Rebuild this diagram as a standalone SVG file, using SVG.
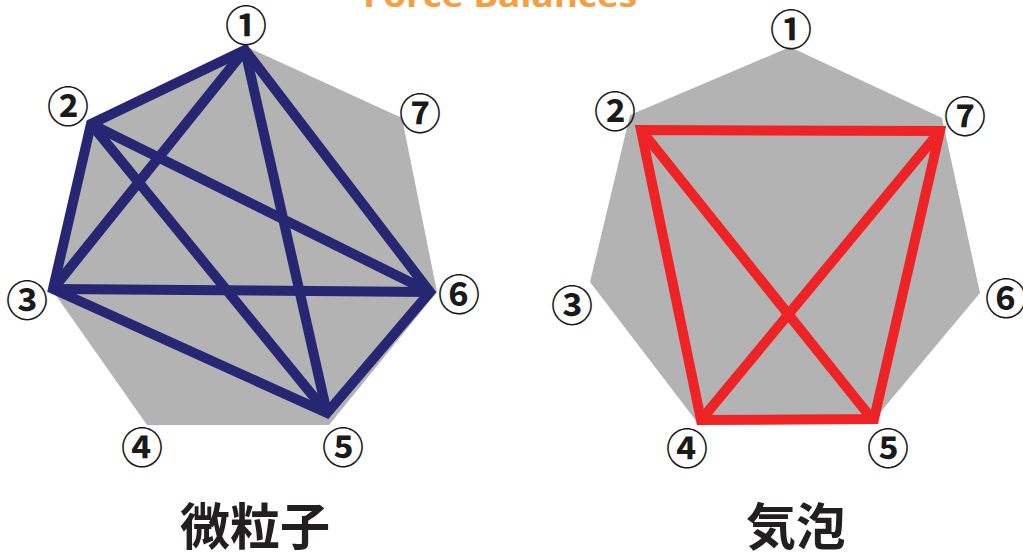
<svg xmlns="http://www.w3.org/2000/svg" width="1023" height="553" viewBox="0 0 1023 553">
<style>
.poly{fill:#b3b3b3;stroke:none}
.num{font-family:"Noto Sans CJK JP","DejaVu Sans",sans-serif;font-size:42px;font-weight:bold;fill:#1a1a1a;text-anchor:middle;dominant-baseline:central}
.title{font-family:"Noto Sans CJK JP",sans-serif;font-size:50px;font-weight:bold;fill:#231f20;text-anchor:middle}
.blue{stroke:#262673;stroke-width:10;fill:none;stroke-linejoin:miter}
.red{stroke:#ee2326;stroke-width:10;fill:none;stroke-linejoin:miter}
</style>
<rect width="1023" height="553" fill="#ffffff"/>
<text x="500" y="7" font-family="Open Sans, sans-serif" font-size="32" font-weight="bold" fill="#f59e42" text-anchor="middle" textLength="274" lengthAdjust="spacingAndGlyphs">Force Balances</text>
<g id="heptagon-left">
<polygon class="poly" points="247,47 402,118 437,292 329,425 147,425 50,287 88,120"/>
</g>
<g id="heptagon-right">
<polygon class="poly" points="790,47 942,118 980,293 878,415 697,422 590,282 630,115"/>
</g>
<g id="connectors">
<polygon class="blue" points="245,50 91,124 53,289 327,413 430,292"/>
<line class="blue" x1="245" y1="50" x2="53" y2="289"/>
<line class="blue" x1="245" y1="50" x2="327" y2="413"/>
<line class="blue" x1="91" y1="124" x2="327" y2="413"/>
<line class="blue" x1="91" y1="124" x2="430" y2="292"/>
<line class="blue" x1="53" y1="289" x2="430" y2="292"/>
<polygon class="red" points="641,130 940,131 874,419 701,420"/>
<line class="red" x1="641" y1="130" x2="872" y2="419"/>
<line class="red" x1="940" y1="131" x2="701" y2="420"/>
</g>
<g id="left-n1"><text class="num" x="246" y="22">①</text></g>
<g id="left-n2"><text class="num" x="68" y="103">②</text></g>
<g id="left-n3"><text class="num" x="27" y="297">③</text></g>
<g id="left-n4"><text class="num" x="142" y="444">④</text></g>
<g id="left-n5"><text class="num" x="343" y="444">⑤</text></g>
<g id="left-n6"><text class="num" x="459" y="291">⑥</text></g>
<g id="left-n7"><text class="num" x="420" y="110">⑦</text></g>
<g id="right-n1"><text class="num" x="791" y="26">①</text></g>
<g id="right-n2"><text class="num" x="615" y="108">②</text></g>
<g id="right-n3"><text class="num" x="572" y="302">③</text></g>
<g id="right-n4"><text class="num" x="687" y="445">④</text></g>
<g id="right-n5"><text class="num" x="888" y="445">⑤</text></g>
<g id="right-n6"><text class="num" x="1006" y="295">⑥</text></g>
<g id="right-n7"><text class="num" x="965" y="113">⑦</text></g>
<g id="label-left"><text class="title" x="255" y="545">微粒子</text></g>
<g id="label-right"><text class="title" x="796" y="545">気泡</text></g>
</svg>
